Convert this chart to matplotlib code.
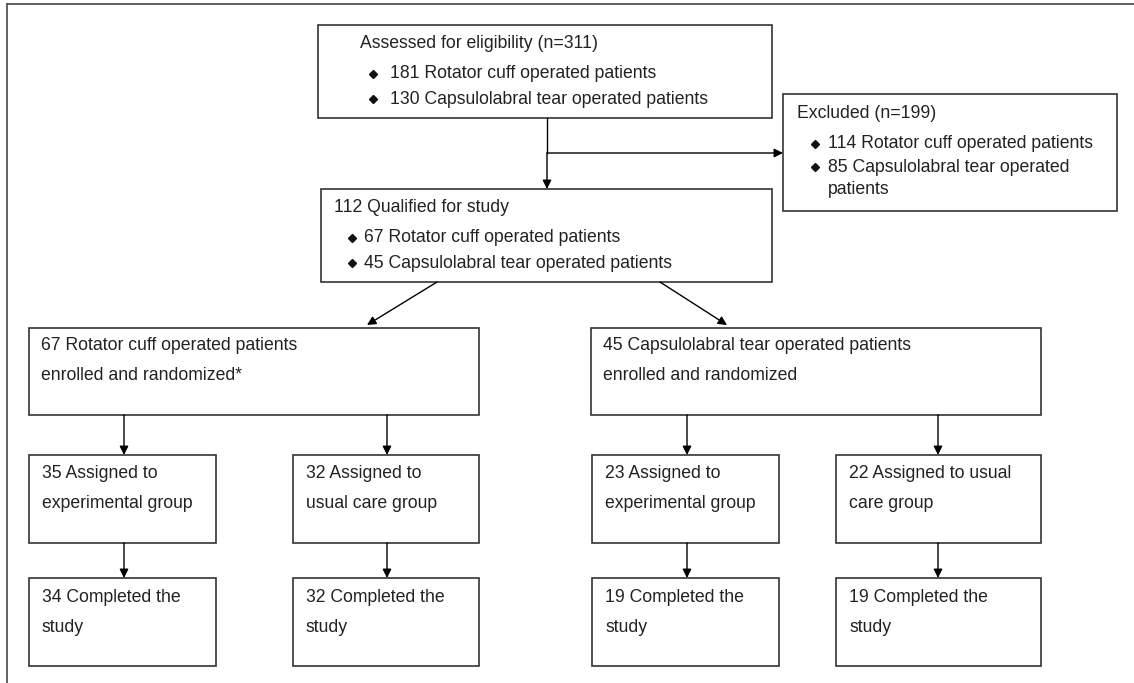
import matplotlib.pyplot as plt
from matplotlib.patches import Rectangle

plt.rcParams['font.family'] = ['Liberation Sans', 'DejaVu Sans']

# --- flow counts and labels ---
assessed_title = "Assessed for eligibility (n=311)"
assessed_items = ["181 Rotator cuff operated patients",
                  "130 Capsulolabral tear operated patients"]
excluded_title = "Excluded (n=199)"
excluded_items = ["114 Rotator cuff operated patients",
                  "85 Capsulolabral tear operated\npatients"]
qualified_title = "112 Qualified for study"
qualified_items = ["67 Rotator cuff operated patients",
                   "45 Capsulolabral tear operated patients"]
enrolled = ["67 Rotator cuff operated patients\nenrolled and randomized*",
            "45 Capsulolabral tear operated patients\nenrolled and randomized"]
assigned = ["35 Assigned to\nexperimental group",
            "32 Assigned to\nusual care group",
            "23 Assigned to\nexperimental group",
            "22 Assigned to usual\ncare group"]
completed = ["34 Completed the\nstudy",
             "32 Completed the\nstudy",
             "19 Completed the\nstudy",
             "19 Completed the\nstudy"]

FS = 12.7
TXT = '#222222'
EDGE = '#333333'

fig = plt.figure(figsize=(11.34, 6.83), dpi=100)
ax = fig.add_axes([0, 0, 1, 1])
ax.set_xlim(0, 1134)
ax.set_ylim(683, 0)
ax.axis('off')

# outer frame (top and left only)
ax.plot([7, 1134], [4, 4], color='#555555', lw=1.3)
ax.plot([7, 7], [4, 683], color='#555555', lw=1.3)


def box(x0, y0, x1, y1):
    ax.add_patch(Rectangle((x0, y0), x1 - x0, y1 - y0, fill=False,
                           edgecolor=EDGE, lw=1.2))


def text(x, y, s):
    ax.text(x, y, s, fontsize=FS, color=TXT, va='center', ha='left',
            linespacing=2.0)


def bullets(xd, xt, y0, items, step):
    y = y0
    for s in items:
        ax.plot(xd, y, marker='D', ms=3.8, color='#111111')
        for line in s.split('\n'):
            ax.text(xt, y, line, fontsize=FS, color=TXT, va='center', ha='left')
            y += step


def arrow(x0, y0, x1, y1):
    ax.annotate('', xy=(x1, y1), xytext=(x0, y0),
                arrowprops=dict(arrowstyle='-|>', color='black', lw=1.0,
                                mutation_scale=13, shrinkA=0, shrinkB=0))


# assessed
box(318, 25, 772, 118)
text(360, 43, assessed_title)
bullets(373, 390, 74, assessed_items, 25)

# excluded
box(783, 94, 1117, 211)
text(797, 113, excluded_title)
bullets(815, 828, 144, excluded_items, 23)

# qualified
box(321, 189, 772, 282)
text(334, 207, qualified_title)
bullets(352, 364, 238, qualified_items, 25)

# arrows top
ax.plot([547, 547], [118, 153], color='black', lw=1.0)
arrow(547, 153, 547, 189)
arrow(547, 153, 783, 153)
arrow(437, 282, 367, 325)
arrow(660, 282, 727, 325)

# enrolled boxes
enr_x = [(29, 479), (591, 1041)]
for (x0, x1), s in zip(enr_x, enrolled):
    box(x0, 328, x1, 415)
    text(x0 + 12, 360, s)

# assigned and completed boxes
grp_x = [(29, 216), (293, 479), (592, 779), (836, 1041)]
arr_x = [124, 387, 687, 938]
for (x0, x1), ax_x, a, c in zip(grp_x, arr_x, assigned, completed):
    arrow(ax_x, 415, ax_x, 455)
    box(x0, 455, x1, 543)
    text(x0 + 13, 488, a)
    arrow(ax_x, 543, ax_x, 578)
    box(x0, 578, x1, 666)
    text(x0 + 13, 612, c)

fig.savefig('out.png', dpi=100)
